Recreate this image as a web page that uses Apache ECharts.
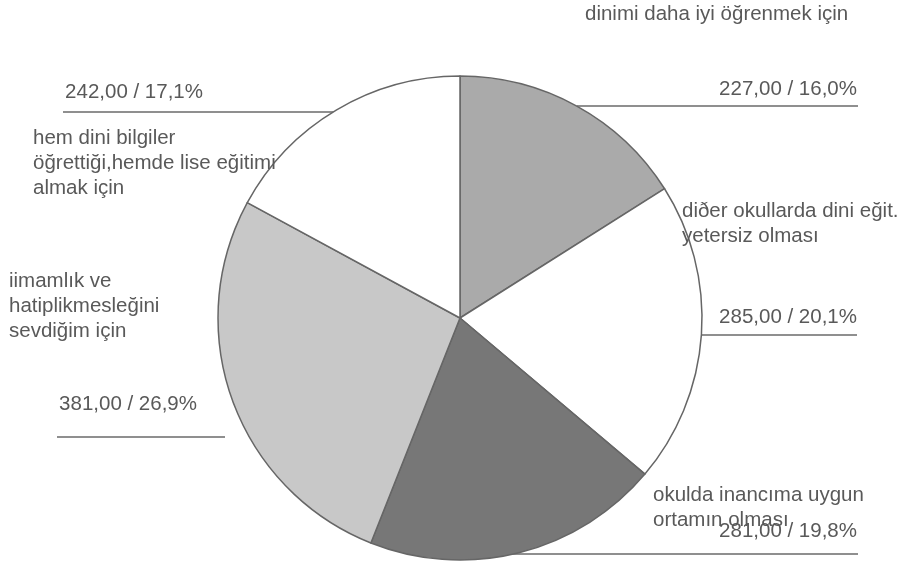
<!DOCTYPE html>
<html><head><meta charset="utf-8">
<script src="https://cdn.jsdelivr.net/npm/echarts@6/dist/echarts.min.js"></script>
<style>html,body{margin:0;padding:0;background:#fff}#c{width:903px;height:561px}</style>
</head><body><div id="c"></div>
<script>
const categories = [
  'dinimi daha iyi öğrenmek için',
  'diðer okullarda dini eğit.\nyetersiz olması',
  'okulda inancıma uygun\nortamın olması',
  'iimamlık ve\nhatiplikmesleğini\nsevdiğim için',
  'hem dini bilgiler\nöğrettiği,hemde lise eğitimi\nalmak için'
];
const values = [227, 285, 281, 381, 242];

const sliceColors = ['#aaaaaa', '#ffffff', '#777777', '#c8c8c8', '#ffffff'];
const namePos = [[585, 1.5], [682, 198.5], [653, 482.5], [9, 268.5], [33, 125.5]];
const valuePos = [[857, 89], [857, 317], [857, 531], [197, 404], [203, 92]];
const leaderLines = [[577, 106, 858], [702, 335, 857], [500, 554, 858], [57, 437, 225], [63, 112, 337]];

const FONT = '"Liberation Sans", Arial, sans-serif';
const FS = 20.5;
const TXT = '#595959';
const total = values.reduce((a, b) => a + b, 0);
const fmt = v => v.toFixed(2).replace('.', ',') + ' / ' + (v / total * 100).toFixed(1).replace('.', ',') + '%';

const graphic = [];
categories.forEach((c, i) => {
  graphic.push({type: 'text', x: namePos[i][0], y: namePos[i][1], z: 10, silent: true,
    style: {text: c, fill: TXT, font: FS + 'px ' + FONT, lineHeight: 25, verticalAlign: 'top', align: 'left'}});
  const L = leaderLines[i];
  graphic.push({type: 'line', z: 0, silent: true, shape: {x1: L[0], y1: L[1], x2: L[2], y2: L[1]},
    style: {stroke: '#6a6a6a', lineWidth: 1.5}});
});

const chart = echarts.init(document.getElementById('c'), null, {renderer: 'canvas'});
chart.setOption({
  backgroundColor: '#fff',
  animation: false,
  graphic: graphic,
  series: [{
    type: 'pie',
    center: [460, 318],
    radius: 242,
    startAngle: 90,
    clockwise: true,
    avoidLabelOverlap: false,
    z: 2,
    data: values.map((v, i) => ({value: v, name: categories[i], itemStyle: {color: sliceColors[i]}})),
    itemStyle: {borderColor: '#666', borderWidth: 1.5},
    label: {show: true, position: 'outside', color: TXT, fontSize: FS, fontFamily: FONT,
      formatter: p => fmt(values[p.dataIndex])},
    labelLine: {show: false},
    labelLayout: p => ({x: valuePos[p.dataIndex][0], y: valuePos[p.dataIndex][1], align: 'right', verticalAlign: 'middle'}),
    emphasis: {disabled: true}
  }]
});
</script></body></html>
